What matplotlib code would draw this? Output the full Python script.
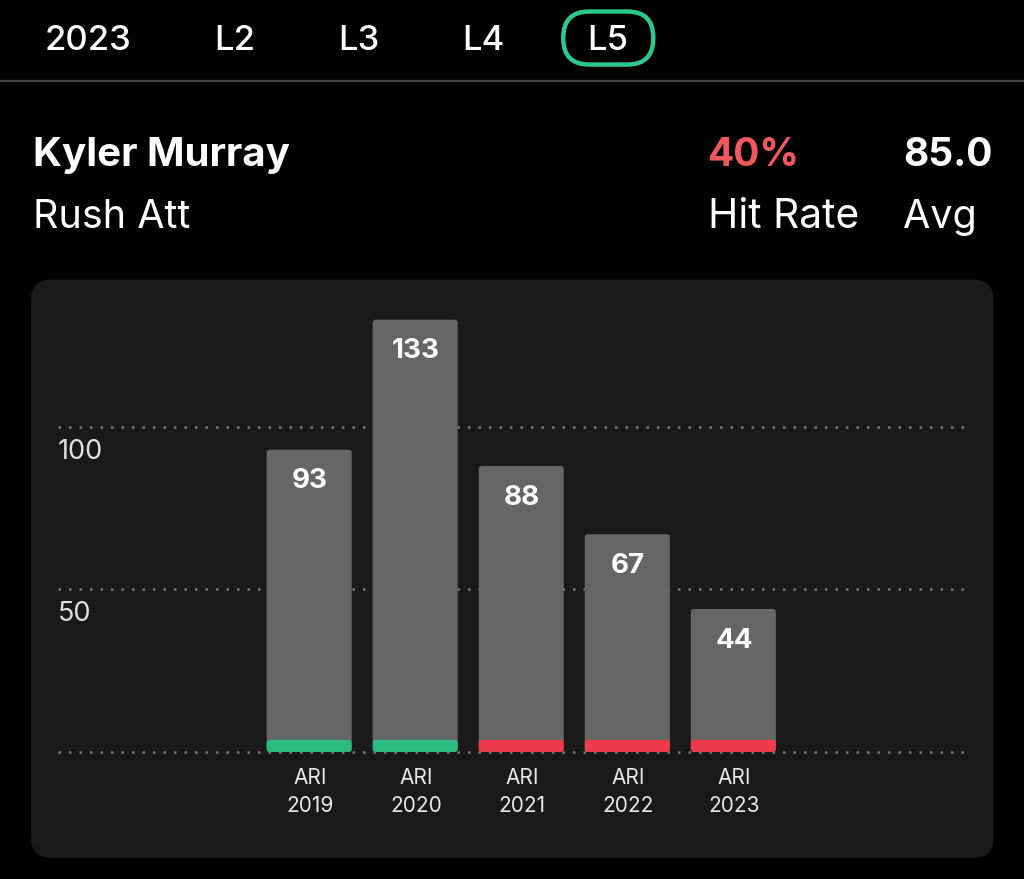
import matplotlib
matplotlib.use("Agg")
import matplotlib.pyplot as plt
from matplotlib.patches import FancyBboxPatch
from matplotlib.transforms import offset_copy, ScaledTranslation

plt.rcParams['font.family'] = ['Inter', 'DejaVu Sans']

# data
players = "Kyler Murray"
stat_name = "Rush Att"
tabs = ["2023", "L2", "L3", "L4", "L5"]
seasons = ["ARI\n2019", "ARI\n2020", "ARI\n2021", "ARI\n2022", "ARI\n2023"]
values = [93, 133, 88, 67, 44]
hits = [True, True, False, False, False]
grid_values = [0, 50, 100]
y_labels = ["", "50", "100"]
hit_rate = "40%"
average = "85.0"

W, H = 1024, 879
fig = plt.figure(figsize=((W + 0.5) / 100, (H + 0.5) / 100), dpi=100, facecolor="black")

# overlay in pixel coords for header and card
bg = fig.add_axes([0, 0, 1, 1])
bg.set_xlim(0, W)
bg.set_ylim(H, 0)
bg.axis("off")

tab_x = [88, 235, 359, 483, 607]
for x, t in zip(tab_x, tabs):
    bg.text(x, 41, t, color="white", fontsize=25, ha="center", va="center", fontweight="medium")
bg.add_patch(FancyBboxPatch((563, 12), 90, 53, boxstyle="round,pad=0,rounding_size=26",
                            fc="none", ec="#2cc98f", lw=3.2))
bg.plot([0, W], [81, 81], color="#444444", lw=1.6)

bg.text(33, 155, players, color="white", fontsize=29, fontweight="bold", ha="left", va="center")
bg.text(33, 217, stat_name, color="white", fontsize=28.5, ha="left", va="center")
bg.text(707, 155, hit_rate, color="#f2575c", fontsize=28, fontweight="bold", ha="left", va="center")
bg.text(708, 217, "Hit Rate", color="white", fontsize=29.3, ha="left", va="center")
bg.text(903, 155, average, color="white", fontsize=28, fontweight="bold", ha="left", va="center")
bg.text(903, 217, "Avg", color="white", fontsize=28.5, ha="left", va="center")

bg.add_patch(FancyBboxPatch((31, 280), 962, 578, boxstyle="round,pad=0,rounding_size=20",
                            fc="#1a1a1a", ec="none"))

# chart axes: spans dotted lines horizontally, baseline to top of tallest bar
ax = fig.add_axes([58 / W, 1 - 752 / H, (965 - 58) / W, (752 - 320) / H])
ax.patch.set_alpha(0)
ax.set_xlim((58 - 309) / 106, (965 - 309) / 106)
ax.set_ylim(0, 133)
for s in ax.spines.values():
    s.set_visible(False)

for g in grid_values:
    ax.axhline(g, color="#7a7a7a", lw=1.8, ls=(0, (1, 3.2)), zorder=1, clip_on=False)

xs = list(range(len(values)))
bar_w = 85 / 106
strip = 3.7
radius = 3 / 106
aspect = 106 / 3.25


def round_bar(x, top, color, z):
    ax.add_patch(FancyBboxPatch((x - bar_w / 2, 0), bar_w, top,
                                boxstyle=f"round,pad=0,rounding_size={radius}",
                                mutation_aspect=aspect, fc=color, ec="none", zorder=z, clip_on=False))


colors = ["#2abb80" if h else "#ee3b4b" for h in hits]
for x, v, c in zip(xs, values, colors):
    round_bar(x, v, "#666666", 2)
    round_bar(x, strip, c, 3)
    ax.annotate(str(v), (x, v), xytext=(0.5, -22.5), textcoords="offset points", color="white",
                fontsize=20, fontweight="bold", ha="center", va="center", zorder=4)

ax.set_xticks(xs)
ax.set_xticklabels(seasons, color="#e8e8e8", fontsize=15, linespacing=1.45)
ax.tick_params(axis="x", length=0, pad=11.5)
for lab in ax.get_xticklabels():
    lab.set_transform(lab.get_transform() + ScaledTranslation(1 / 100, 0, fig.dpi_scale_trans))
ax.set_yticks([])

lab_trans = offset_copy(ax.get_yaxis_transform(), fig=fig, x=0, y=-24.5 * 0.72, units="points")
for g, l in zip(grid_values, y_labels):
    ax.text(0, g, l, transform=lab_trans, color="#e0e0e0", fontsize=19.5, ha="left", va="center")

fig.savefig("out.png", dpi=100, facecolor="black")
